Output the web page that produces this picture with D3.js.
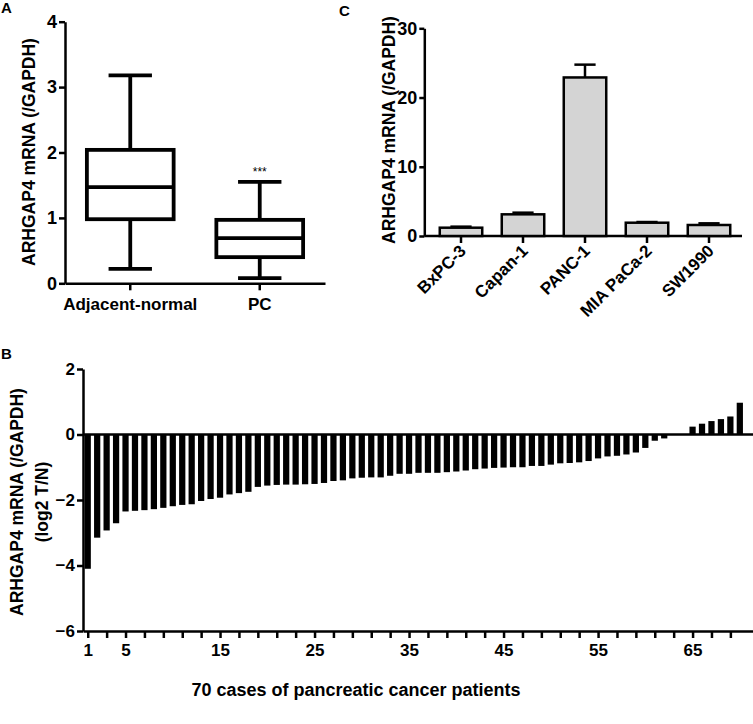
<!DOCTYPE html>
<html><head><meta charset="utf-8">
<script src="https://cdn.jsdelivr.net/npm/d3@7"></script>
<style>
body{margin:0;background:#fff;}
text{font-family:"Liberation Sans",Arial,sans-serif;font-weight:bold;fill:#000;}
</style></head>
<body><svg id="c" width="753" height="724"></svg>
<script>
// Panel A data (box plot)
const boxCats = ["Adjacent-normal", "PC"];
const boxMin = [0.22, 0.08];
const boxQ1 = [0.98, 0.40];
const boxMed = [1.47, 0.69];
const boxQ3 = [2.04, 0.97];
const boxMax = [3.18, 1.55];
const boxTicks = [0, 1, 2, 3, 4];

// Panel C data (cell lines)
const cellLines = ["BxPC-3", "Capan-1", "PANC-1", "MIA PaCa-2", "SW1990"];
const cellVals = [1.2, 3.13, 22.9, 1.92, 1.59];
const cellErr = [0.15, 0.24, 1.85, 0.10, 0.24];
const cellTicks = [0, 10, 20, 30];

// Panel B data (70 patients, log2 T/N)
const patientVals = [
  -4.10, -3.15, -2.93, -2.71, -2.35, -2.33, -2.31, -2.28, -2.24, -2.19,
  -2.15, -2.13, -2.03, -1.97, -1.93, -1.83, -1.79, -1.75, -1.60, -1.56,
  -1.54, -1.53, -1.53, -1.52, -1.51, -1.48, -1.42, -1.40, -1.34, -1.32,
  -1.31, -1.31, -1.26, -1.20, -1.20, -1.17, -1.17, -1.17, -1.15, -1.13,
  -1.10, -1.06, -1.04, -1.02, -1.01, -1.00, -1.00, -0.96, -0.96, -0.92,
  -0.88, -0.87, -0.85, -0.81, -0.73, -0.67, -0.65, -0.61, -0.55, -0.41,
  -0.19, -0.12, 0, 0, 0.24, 0.33, 0.41, 0.47, 0.55, 0.97
];
const patientTicks = [2, 0, -2, -4, -6];
const patientLabels = [1, 5, 15, 25, 35, 45, 55, 65];

const svg = d3.select("#c");
const AX = 2.5;

function styleAxis(g, fs) {
  g.attr("font-size", fs);
  g.selectAll("path,line").attr("stroke", "#000").attr("stroke-width", AX);
  g.selectAll("text").attr("font-size", fs).attr("font-family", '"Liberation Sans",Arial,sans-serif').attr("font-weight", "bold").attr("fill", "#000");
}

// ---------- Panel A ----------
const yA = d3.scaleLinear().domain([0, 4]).range([283.3, 21.7]);
const xA = d3.scaleBand().domain(boxCats).range([65, 325]).paddingInner(0.33).paddingOuter(0.169);
const gA = svg.append("g");
const ayA = gA.append("g").attr("transform", "translate(65,0)")
  .call(d3.axisLeft(yA).tickValues(boxTicks).tickSize(6).tickSizeOuter(0).tickPadding(2).tickFormat(d3.format("d")));
styleAxis(ayA, 18);
const axA = gA.append("g").attr("transform", "translate(0,283.3)")
  .call(d3.axisBottom(xA).tickSize(7).tickSizeOuter(0).tickPadding(8));
styleAxis(axA, 17);
boxCats.forEach((c, i) => {
  const cx = xA(c) + xA.bandwidth() / 2, bw = xA.bandwidth();
  const g = gA.append("g").attr("stroke", "#000").attr("stroke-width", 3.8).attr("fill", "none");
  g.append("line").attr("x1", cx).attr("x2", cx).attr("y1", yA(boxMax[i])).attr("y2", yA(boxQ3[i]));
  g.append("line").attr("x1", cx).attr("x2", cx).attr("y1", yA(boxQ1[i])).attr("y2", yA(boxMin[i]));
  g.append("line").attr("x1", cx - bw / 4).attr("x2", cx + bw / 4).attr("y1", yA(boxMax[i])).attr("y2", yA(boxMax[i]));
  g.append("line").attr("x1", cx - bw / 4).attr("x2", cx + bw / 4).attr("y1", yA(boxMin[i])).attr("y2", yA(boxMin[i]));
  g.append("rect").attr("x", xA(c)).attr("width", bw).attr("y", yA(boxQ3[i])).attr("height", yA(boxQ1[i]) - yA(boxQ3[i]));
  g.append("line").attr("x1", xA(c)).attr("x2", xA(c) + bw).attr("y1", yA(boxMed[i])).attr("y2", yA(boxMed[i]));
});
gA.append("text").attr("x", xA("PC") + xA.bandwidth() / 2).attr("y", yA(boxMax[1]) - 6)
  .attr("text-anchor", "middle").attr("font-size", 12).style("font-weight", "normal").text("***");
gA.append("text").attr("transform", "translate(35,152) rotate(-90)").attr("text-anchor", "middle")
  .attr("font-size", 17.5).text("ARHGAP4 mRNA (/GAPDH)");
gA.append("text").attr("x", 1).attr("y", 13).attr("font-size", 15).text("A");

// ---------- Panel C ----------
const yC = d3.scaleLinear().domain([0, 30]).range([236, 28.3]);
const xC = d3.scaleBand().domain(cellLines).range([430, 740]).paddingInner(0.315).paddingOuter(0.1575);
const gC = svg.append("g");
const ayC = gC.append("g").attr("transform", "translate(424.3,0)")
  .call(d3.axisLeft(yC).tickValues(cellTicks).tickSize(5).tickSizeOuter(0).tickPadding(2));
styleAxis(ayC, 18);
gC.append("line").attr("x1", 424.3).attr("x2", 742).attr("y1", 236).attr("y2", 236).attr("stroke", "#000").attr("stroke-width", AX);
cellLines.forEach((c, i) => {
  const x0 = xC(c), bw = xC.bandwidth(), cx = x0 + bw / 2;
  gC.append("line").attr("x1", cx).attr("x2", cx).attr("y1", yC(cellVals[i])).attr("y2", yC(cellVals[i] + cellErr[i]))
    .attr("stroke", "#000").attr("stroke-width", 2.5);
  gC.append("line").attr("x1", cx - bw / 4).attr("x2", cx + bw / 4).attr("y1", yC(cellVals[i] + cellErr[i])).attr("y2", yC(cellVals[i] + cellErr[i]))
    .attr("stroke", "#000").attr("stroke-width", 2.5);
  gC.append("rect").attr("x", x0).attr("width", bw).attr("y", yC(cellVals[i])).attr("height", yC(0) - yC(cellVals[i]))
    .attr("fill", "#d4d4d4").attr("stroke", "#000").attr("stroke-width", 2.5);
  gC.append("line").attr("x1", cx).attr("x2", cx).attr("y1", 236).attr("y2", 243).attr("stroke", "#000").attr("stroke-width", AX);
  gC.append("text").attr("transform", `translate(${cx + 6},${252}) rotate(-45)`).attr("text-anchor", "end")
    .attr("font-size", 17).text(c);
});
gC.append("text").attr("transform", "translate(395,130) rotate(-90)").attr("text-anchor", "middle")
  .attr("font-size", 17.5).text("ARHGAP4 mRNA (/GAPDH)");
gC.append("text").attr("x", 339).attr("y", 16).attr("font-size", 15).text("C");

// ---------- Panel B ----------
const yB = d3.scaleLinear().domain([-6, 2]).range([631, 369]);
const xB = d3.scaleLinear().domain([0.5, 71.5]).range([83, 754]);
const gB = svg.append("g");
const barW = (xB(2) - xB(1)) * 0.66;
gB.selectAll("rect.bar").data(patientVals).join("rect").attr("class", "bar")
  .attr("x", (d, i) => xB(i + 1) - barW / 2).attr("width", barW)
  .attr("y", d => yB(Math.max(0, d))).attr("height", d => Math.abs(yB(d) - yB(0)))
  .attr("fill", "#000");
gB.append("line").attr("x1", xB(0.5)).attr("x2", xB(71.5)).attr("y1", yB(0)).attr("y2", yB(0)).attr("stroke", "#000").attr("stroke-width", 2.5);
const ayB = gB.append("g").attr("transform", "translate(83,0)")
  .call(d3.axisLeft(yB).tickValues(patientTicks).tickSize(6).tickSizeOuter(0).tickPadding(2));
styleAxis(ayB, 17);
const oddTicks = d3.range(1, 70, 2);
const axB = gB.append("g").attr("transform", "translate(0,631)")
  .call(d3.axisBottom(xB).tickValues(oddTicks).tickSize(7).tickSizeOuter(0).tickPadding(6)
    .tickFormat(d => patientLabels.includes(d) ? d : ""));
styleAxis(axB, 17);
gB.append("text").attr("x", 356).attr("y", 696).attr("text-anchor", "middle").attr("font-size", 18)
  .text("70 cases of pancreatic cancer patients");
gB.append("text").attr("transform", "translate(23,502) rotate(-90)").attr("text-anchor", "middle")
  .attr("font-size", 17.5).text("ARHGAP4 mRNA (/GAPDH)");
gB.append("text").attr("transform", "translate(48,502) rotate(-90)").attr("text-anchor", "middle")
  .attr("font-size", 17.5).text("(log2 T/N)");
gB.append("text").attr("x", 1).attr("y", 359).attr("font-size", 15).text("B");
</script></body></html>
